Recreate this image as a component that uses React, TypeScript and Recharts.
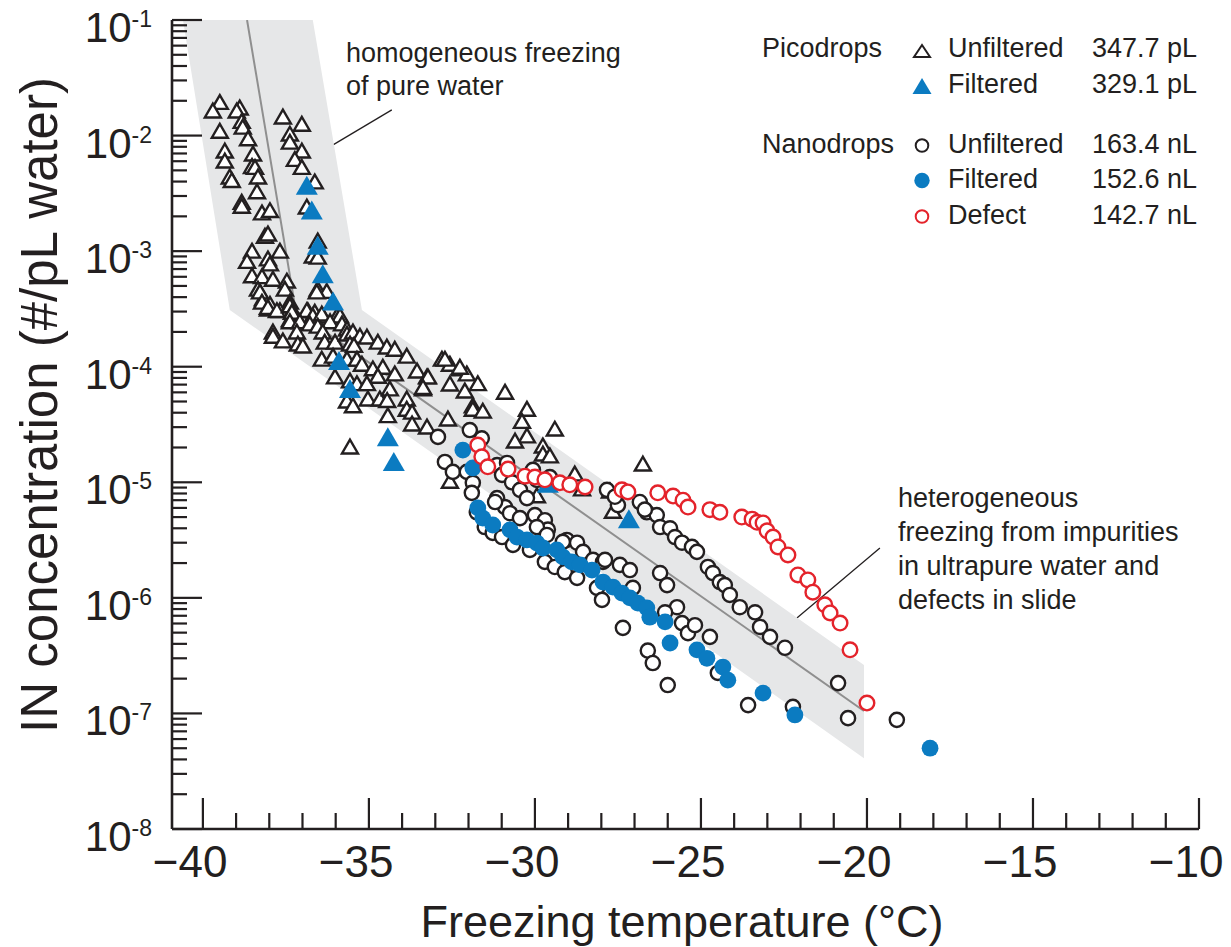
import { ScatterChart, Scatter, XAxis, YAxis, ReferenceLine } from "recharts";

type Pt = [number, number];

// [freezing temperature (°C), IN concentration (#/pL water)]
const picoUnfiltered: Pt[] = [
  [-39.49, 1.9e-2], [-39.7, 1.6e-2], [-38.89, 1.7e-2], [-38.98, 1.6e-2], [-38.83, 1.3e-2],
  [-39.49, 1.07e-2], [-38.8, 1.16e-2], [-38.64, 9.2e-3], [-39.34, 7.2e-3], [-39.34, 5.9e-3],
  [-38.49, 6.8e-3], [-38.52, 5.3e-3], [-38.43, 5.2e-3], [-39.19, 4.3e-3], [-39.13, 4.0e-3],
  [-38.34, 4.3e-3], [-38.37, 3.2e-3], [-38.83, 2.6e-3], [-38.83, 2.4e-3], [-38.22, 2.1e-3],
  [-37.98, 2.2e-3], [-38.13, 1.32e-3], [-38.04, 1.38e-3], [-38.52, 9.8e-4], [-37.68, 9.8e-4],
  [-38.67, 8.0e-4], [-38.04, 8.4e-4], [-37.98, 7.6e-4], [-38.52, 6.0e-4], [-38.22, 5.9e-4],
  [-37.89, 5.6e-4], [-37.47, 5.4e-4], [-38.34, 4.6e-4], [-37.53, 4.6e-4], [-38.19, 3.8e-4],
  [-37.98, 3.4e-4], [-37.38, 3.55e-4], [-37.38, 3.2e-4], [-37.68, 3.0e-4], [-38.04, 3.1e-4],
  [-37.89, 1.96e-4], [-37.38, 2.5e-4],
  [-37.59, 1.42e-2], [-37.02, 1.23e-2], [-37.38, 1.01e-2], [-37.38, 8.6e-3], [-37.02, 7.2e-3],
  [-37.23, 6.1e-3], [-37.02, 5.2e-3], [-36.63, 3.9e-3], [-36.87, 2.36e-3], [-36.54, 1.2e-3],
  [-36.69, 8.9e-4], [-36.54, 8.7e-4], [-36.54, 4.6e-4], [-36.27, 4.4e-4], [-36.84, 3.0e-4],
  [-36.63, 2.9e-4], [-36.39, 2.7e-4], [-35.96, 2.7e-4],
  [-38.28, 4.35e-4], [-36.57, 4.35e-4], [-38.22, 3.55e-4], [-38.04, 3.2e-4], [-37.77, 3.0e-4],
  [-37.38, 3.3e-4], [-37.32, 2.9e-4], [-36.87, 3.0e-4], [-36.69, 2.7e-4], [-36.42, 2.8e-4],
  [-35.87, 2.7e-4], [-37.38, 2.4e-4], [-37.08, 2.4e-4], [-36.78, 2.3e-4], [-36.54, 2.2e-4],
  [-36.17, 2.4e-4], [-35.81, 2.3e-4], [-35.66, 2.08e-4], [-37.89, 1.8e-4], [-37.59, 1.64e-4],
  [-37.17, 1.96e-4], [-37.14, 1.54e-4], [-36.99, 1.48e-4], [-36.39, 1.96e-4], [-36.33, 1.6e-4],
  [-36.02, 1.6e-4], [-35.66, 1.88e-4], [-35.48, 1.96e-4], [-35.27, 1.8e-4], [-35.06, 1.77e-4],
  [-35.57, 1.54e-4], [-35.45, 1.5e-4], [-34.73, 1.6e-4], [-34.46, 1.45e-4], [-34.22, 1.39e-4],
  [-33.86, 1.21e-4], [-36.42, 1.14e-4], [-36.08, 1.21e-4], [-35.66, 1.14e-4], [-35.36, 1.14e-4],
  [-35.21, 1.03e-4], [-34.88, 9.4e-5], [-34.58, 9.7e-5], [-34.73, 8.1e-5], [-34.22, 8.5e-5],
  [-33.55, 9.0e-5], [-33.25, 8.0e-5], [-32.8, 1.14e-4], [-32.56, 1.03e-4], [-32.26, 9.4e-5],
  [-32.05, 8.5e-5], [-32.56, 6.95e-5], [-32.11, 6.05e-5], [-36.02, 8.0e-5], [-35.57, 7.4e-5],
  [-35.36, 7.0e-5], [-35.06, 7.0e-5], [-35.03, 5.15e-5], [-34.67, 5.15e-5], [-34.37, 6.3e-5],
  [-34.45, 5.0e-5], [-33.86, 5.15e-5], [-33.86, 4.2e-5], [-33.7, 3.97e-5], [-33.37, 6.3e-5],
  [-35.66, 4.95e-5], [-35.48, 4.5e-5], [-34.43, 3.7e-5], [-33.7, 3.13e-5], [-33.25, 2.95e-5],
  [-32.62, 3.46e-5], [-31.87, 4.5e-5], [-35.57, 1.98e-5],
  [-32.71, 1.14e-4], [-32.26, 9.7e-5], [-33.22, 8.0e-5], [-33.37, 6.5e-5], [-31.72, 7.0e-5],
  [-30.9, 5.9e-5], [-31.87, 4.2e-5], [-31.57, 4.05e-5], [-30.24, 4.2e-5], [-30.39, 3.3e-5],
  [-30.24, 2.47e-5], [-30.6, 2.23e-5], [-29.4, 2.83e-5], [-29.76, 2.02e-5], [-29.76, 1.72e-5],
  [-29.55, 1.66e-5], [-28.8, 1.16e-5], [-28.58, 8.6e-6], [-29.94, 7.5e-6], [-32.56, 1.0e-5],
  [-27.74, 8.25e-6], [-27.65, 5.5e-6], [-26.75, 1.41e-5],
];

const picoFiltered: Pt[] = [
  [-36.87, 3.6e-3], [-36.72, 2.2e-3], [-36.54, 1.09e-3], [-36.39, 6.2e-4], [-36.08, 3.6e-4],
  [-35.9, 1.1e-4], [-35.57, 6.3e-5], [-34.43, 2.4e-5], [-34.25, 1.47e-5], [-29.61, 9.5e-6],
  [-27.17, 4.7e-6],
];

const nanoUnfiltered: Pt[] = [
  [-31.96, 2.83e-5], [-32.92, 2.47e-5], [-31.6, 2.4e-5], [-32.71, 1.5e-5], [-32.47, 1.23e-5],
  [-32.05, 1.23e-5], [-31.87, 9.9e-6], [-31.9, 8.1e-6], [-31.14, 1.41e-5], [-30.84, 1.47e-5],
  [-30.99, 1.16e-5], [-30.69, 1.0e-5], [-30.45, 8.6e-6], [-30.24, 7.3e-6], [-30.06, 1.28e-5],
  [-29.94, 1.05e-5], [-29.55, 1.11e-5], [-31.14, 7.3e-6], [-30.9, 6.1e-6], [-30.75, 5.4e-6],
  [-30.45, 4.9e-6], [-30.0, 5.2e-6], [-29.7, 4.7e-6], [-29.61, 3.9e-6], [-29.94, 4.1e-6],
  [-29.04, 3.17e-6], [-28.73, 3.0e-6], [-31.75, 5.5e-6], [-31.51, 4.1e-6], [-31.27, 3.65e-6],
  [-30.99, 3.36e-6], [-30.66, 2.87e-6], [-31.2, 6.75e-6], [-29.64, 3.5e-6], [-30.15, 2.6e-6],
  [-29.7, 2.05e-6], [-29.4, 1.85e-6], [-29.1, 1.67e-6], [-28.73, 1.49e-6], [-29.16, 3.05e-6],
  [-28.55, 2.5e-6], [-28.25, 2.13e-6], [-27.95, 2.05e-6], [-27.44, 1.93e-6], [-27.14, 1.74e-6],
  [-28.13, 1.22e-6], [-27.98, 9.6e-7], [-27.35, 5.5e-7], [-26.6, 3.5e-7], [-26.45, 2.73e-7],
  [-26.0, 1.76e-7], [-26.23, 1.64e-6], [-26.02, 1.29e-6], [-27.5, 6.35e-6], [-26.63, 5.5e-6],
  [-26.33, 5.2e-6], [-26.23, 4.1e-6], [-25.93, 4.0e-6], [-25.78, 3.36e-6], [-25.72, 8.3e-7],
  [-26.08, 7.5e-7], [-27.05, 1.22e-6], [-27.83, 8.6e-6], [-27.59, 7.5e-6], [-26.84, 6.75e-6],
  [-26.69, 5.8e-6], [-25.57, 3.0e-6], [-25.27, 2.76e-6], [-25.12, 2.5e-6], [-24.79, 1.85e-6],
  [-24.64, 1.64e-6], [-24.43, 1.37e-6], [-24.28, 1.29e-6], [-24.13, 1.06e-6], [-23.83, 8.3e-7],
  [-23.37, 7.5e-7], [-23.22, 5.6e-7], [-22.92, 4.6e-7], [-22.47, 3.7e-7], [-20.87, 1.83e-7],
  [-27.89, 2.13e-6], [-25.57, 6.05e-7], [-25.39, 4.95e-7], [-25.18, 5.8e-7], [-24.73, 4.6e-7],
  [-24.49, 2.24e-7], [-23.58, 1.18e-7], [-22.23, 1.14e-7], [-20.57, 9.1e-8], [-19.1, 8.8e-8],
];

const nanoFiltered: Pt[] = [
  [-32.17, 1.9e-5], [-31.87, 1.33e-5], [-31.72, 6.0e-6], [-31.57, 4.9e-6], [-31.27, 4.27e-6],
  [-30.75, 3.87e-6], [-30.54, 3.36e-6], [-30.24, 3.17e-6], [-29.94, 2.98e-6], [-29.76, 2.7e-6],
  [-29.34, 2.6e-6], [-29.16, 2.26e-6], [-28.89, 2.05e-6], [-28.64, 1.93e-6], [-28.28, 1.74e-6],
  [-27.95, 1.37e-6], [-27.65, 1.24e-6], [-27.38, 1.1e-6], [-27.14, 1.0e-6], [-26.9, 9.0e-7],
  [-26.63, 8.2e-7], [-26.54, 6.8e-7], [-26.08, 6.2e-7], [-25.93, 4.07e-7], [-25.12, 3.55e-7],
  [-24.82, 3.0e-7], [-24.34, 2.52e-7], [-24.19, 1.94e-7], [-23.13, 1.5e-7], [-22.17, 9.7e-8],
  [-18.1, 5.0e-8],
];

const nanoDefect: Pt[] = [
  [-31.72, 2.1e-5], [-31.6, 1.66e-5], [-31.42, 1.36e-5], [-30.81, 1.3e-5], [-30.3, 1.13e-5],
  [-30.0, 1.11e-5], [-29.7, 1.05e-5], [-29.25, 9.9e-6], [-28.95, 9.5e-6], [-28.49, 9.1e-6],
  [-27.38, 8.6e-6], [-27.2, 8.25e-6], [-26.3, 8.1e-6], [-25.84, 7.6e-6], [-25.54, 7.0e-6],
  [-25.39, 6.1e-6], [-24.73, 5.8e-6], [-24.43, 5.5e-6], [-23.77, 5.0e-6], [-23.46, 4.8e-6],
  [-23.31, 4.5e-6], [-23.13, 4.45e-6], [-23.01, 3.8e-6], [-22.83, 3.36e-6], [-22.68, 2.76e-6],
  [-22.38, 2.35e-6], [-22.08, 1.58e-6], [-21.78, 1.43e-6], [-21.63, 1.12e-6], [-21.27, 8.7e-7],
  [-21.11, 7.4e-7], [-20.81, 6.05e-7], [-20.51, 3.55e-7], [-20.0, 1.23e-7],
];

// grey band and its centre line
const bandOutline: Pt[] = [
  [-40.6, 1e-1], [-36.69, 1e-1], [-35.21, 3.1e-4], [-20.09, 2.62e-7], [-20.09, 4.1e-8], [-39.19, 3.1e-4],
];
const bandCentre: Pt[] = [[-38.67, 1e-1], [-37.2, 3.03e-4], [-20.09, 1.05e-7]];

// leader lines of the two notes
const homLeader: Pt[] = [[-36.08, 8.3e-3], [-34.31, 1.67e-2]];
const hetLeader: Pt[] = [[-22.11, 6.7e-7], [-19.61, 2.7e-6]];

const xTicks = Array.from({ length: 31 }, (_, i) => -40 + i);
const decades = [-8, -7, -6, -5, -4, -3, -2, -1];
const yTicks = decades.flatMap((e) =>
  e === -1 ? [1e-1] : [1, 2, 3, 4, 5, 6, 7, 8, 9].map((m) => m * Math.pow(10, e))
);

const homNote = ["homogeneous freezing", "of pure water"];
const hetNote = ["heterogeneous", "freezing from impurities", "in ultrapure water and", "defects in slide"];

const ink = "#231f20";
const blue = "#0b7bc1";
const red = "#e4232b";
const font = "'Liberation Sans', Arial, Helvetica, sans-serif";

const toXY = (pts: Pt[]) => pts.map(([x, y]) => ({ x, y }));

const openTri = (cx: number, cy: number) => (
  <polygon
    points={`${cx},${cy - 8.3} ${cx - 8},${cy + 5.5} ${cx + 8},${cy + 5.5}`}
    fill="#fff"
    stroke={ink}
    strokeWidth={2.4}
  />
);
const fullTri = (cx: number, cy: number) => (
  <polygon points={`${cx},${cy - 11} ${cx - 11},${cy + 8} ${cx + 11},${cy + 8}`} fill={blue} />
);
const openDot = (cx: number, cy: number) => (
  <circle cx={cx} cy={cy} r={7.1} fill="#fff" stroke={ink} strokeWidth={2.4} />
);
const fullDot = (cx: number, cy: number) => <circle cx={cx} cy={cy} r={8.4} fill={blue} />;
const redDot = (cx: number, cy: number) => (
  <circle cx={cx} cy={cy} r={7.3} fill="#fff" stroke={red} strokeWidth={2.4} />
);

const YTick = (props: any) => {
  const { x, y, payload } = props;
  const e = Math.log10(payload.value);
  const major = Math.abs(e - Math.round(e)) < 1e-6;
  return (
    <g>
      <line x1={x} y1={y} x2={x + (major ? 30 : 15)} y2={y} stroke={ink} strokeWidth={2.2} />
      {major && (
        <text x={x - 20} y={y + 22} textAnchor="end" fontSize={42} fill={ink} fontFamily={font}>
          10
          <tspan dy={-15} fontSize={23}>
            {String(Math.round(e))}
          </tspan>
        </text>
      )}
    </g>
  );
};

const XTick = (props: any) => {
  const { x, y, payload } = props;
  const v = payload.value;
  const major = v % 5 === 0;
  return (
    <g>
      <line x1={x} y1={y} x2={x} y2={y - (major ? 31 : 16)} stroke={ink} strokeWidth={2.2} />
      {major && (
        <text x={x + 24.5} y={y + 48} textAnchor="end" fontSize={44} fill={ink} fontFamily={font}>
          {"\u2212" + Math.abs(v)}
        </text>
      )}
    </g>
  );
};

const legendRows = [
  { group: "Picodrops", label: "Unfiltered", volume: "347.7 pL", mark: "openTri" },
  { group: "", label: "Filtered", volume: "329.1 pL", mark: "fullTri" },
  { group: "Nanodrops", label: "Unfiltered", volume: "163.4 nL", mark: "openDot" },
  { group: "", label: "Filtered", volume: "152.6 nL", mark: "fullDot" },
  { group: "", label: "Defect", volume: "142.7 nL", mark: "redDot" },
];
const legendBaselines = [57, 93, 153, 188, 224];

const legendMark = (mark: string, cx: number, base: number) => {
  if (mark === "openTri")
    return (
      <polygon
        points={`${cx},${base - 12} ${cx - 8},${base} ${cx + 8},${base}`}
        fill="#fff"
        stroke={ink}
        strokeWidth={2}
      />
    );
  if (mark === "fullTri")
    return <polygon points={`${cx},${base - 15} ${cx - 9.5},${base + 1} ${cx + 9.5},${base + 1}`} fill={blue} />;
  if (mark === "openDot")
    return <circle cx={cx} cy={base - 7.5} r={6.3} fill="#fff" stroke={ink} strokeWidth={2} />;
  if (mark === "fullDot") return <circle cx={cx} cy={base - 7.5} r={7.7} fill={blue} />;
  return <circle cx={cx} cy={base - 7.5} r={6.3} fill="#fff" stroke={red} strokeWidth={2} />;
};

const App = () => {
  return (
    <div style={{ position: "absolute", left: 0, top: 0, width: 1231, height: 947, background: "#fff" }}>
      <ScatterChart width={1231} height={947} margin={{ top: 20, right: 32, bottom: 0, left: 0 }}>
        <XAxis
          type="number"
          dataKey="x"
          domain={[-40.93, -10]}
          allowDataOverflow
          ticks={xTicks}
          interval={0}
          height={118}
          tickSize={0}
          tickMargin={0}
          tickLine={false}
          tick={<XTick />}
          axisLine={{ stroke: ink, strokeWidth: 2.6 }}
        />
        <YAxis
          type="number"
          dataKey="y"
          scale="log"
          domain={[1e-8, 1e-1]}
          allowDataOverflow
          ticks={yTicks}
          interval={0}
          width={172}
          tickSize={0}
          tickMargin={0}
          tickLine={false}
          tick={<YTick />}
          axisLine={{ stroke: ink, strokeWidth: 2.6 }}
        />
        <Scatter
          data={toXY(bandOutline)}
          isAnimationActive={false}
          shape={() => <g />}
          line={(p: any) => (
            <polygon
              points={p.points.map((q: any) => `${q.x},${q.y}`).join(" ")}
              fill="#e6e7e8"
              stroke="none"
            />
          )}
        />
        <Scatter
          data={toXY(bandCentre)}
          isAnimationActive={false}
          shape={() => <g />}
          line={{ stroke: "#8f8f8f", strokeWidth: 2 }}
        />
        <ReferenceLine segment={toXY(homLeader)} stroke={ink} strokeWidth={1.3} ifOverflow="visible" />
        <ReferenceLine segment={toXY(hetLeader)} stroke={ink} strokeWidth={1.3} ifOverflow="visible" />
        <Scatter data={toXY(picoUnfiltered)} isAnimationActive={false} shape={(p: any) => openTri(p.cx, p.cy)} />
        <Scatter data={toXY(picoFiltered)} isAnimationActive={false} shape={(p: any) => fullTri(p.cx, p.cy)} />
        <Scatter data={toXY(nanoUnfiltered)} isAnimationActive={false} shape={(p: any) => openDot(p.cx, p.cy)} />
        <Scatter data={toXY(nanoFiltered)} isAnimationActive={false} shape={(p: any) => fullDot(p.cx, p.cy)} />
        <Scatter data={toXY(nanoDefect)} isAnimationActive={false} shape={(p: any) => redDot(p.cx, p.cy)} />
      </ScatterChart>

      <svg
        width={1231}
        height={947}
        style={{ position: "absolute", left: 0, top: 0, pointerEvents: "none" }}
        fontFamily={font}
        fill={ink}
      >
        <text transform="translate(57,405) rotate(-90)" textAnchor="middle" fontSize={51}>
          IN concentration (#/pL water)
        </text>
        <text x={682} y={937} textAnchor="middle" fontSize={45}>
          Freezing temperature (°C)
        </text>

        {homNote.map((t, i) => (
          <text key={t} x={346} y={62 + i * 33} fontSize={27}>
            {t}
          </text>
        ))}
        {hetNote.map((t, i) => (
          <text key={t} x={898} y={507 + i * 34} fontSize={27}>
            {t}
          </text>
        ))}

        {legendRows.map((r, i) => {
          const b = legendBaselines[i];
          return (
            <g key={i}>
              {r.group && (
                <text x={762} y={b} fontSize={27}>
                  {r.group}
                </text>
              )}
              {legendMark(r.mark, 922, b)}
              <text x={948} y={b} fontSize={27}>
                {r.label}
              </text>
              <text x={1197} y={b} fontSize={27} textAnchor="end">
                {r.volume}
              </text>
            </g>
          );
        })}
      </svg>
    </div>
  );
};

export default App;
